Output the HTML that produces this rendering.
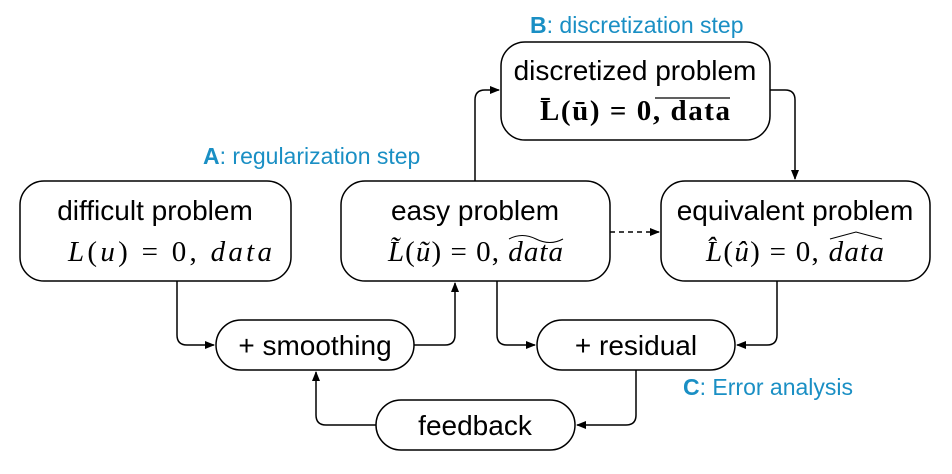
<!DOCTYPE html>
<html><head><style>
body{margin:0;background:#fff;width:952px;height:469px;overflow:hidden}
svg text{font-family:"Liberation Sans",sans-serif}
.t{font-size:28px;fill:#000;text-anchor:middle}
.m{font-family:"Liberation Serif",serif !important;font-size:29px}
.b{font-size:23px;fill:#1a8fc4}
</style></head><body>
<svg width="952" height="469" viewBox="0 0 952 469">
<defs><marker id="a" markerWidth="10" markerHeight="8" refX="9" refY="4" orient="auto" markerUnits="userSpaceOnUse"><path d="M0,0L10,4L0,8z" fill="#000"/></marker></defs>
<g fill="none" stroke="#000" stroke-width="1.5">
<rect x="20" y="181" width="271" height="100" rx="24"/>
<rect x="341" y="181" width="269" height="100" rx="24"/>
<rect x="661" y="181" width="269" height="100" rx="24"/>
<rect x="501" y="42" width="269" height="98" rx="24"/>
<rect x="216" y="320" width="198" height="50" rx="25"/>
<rect x="537" y="320" width="198" height="50" rx="25"/>
<rect x="376" y="400" width="199" height="50" rx="25"/>
<path d="M177,281V335q0,10 10,10H214" marker-end="url(#a)"/>
<path d="M414,345H445q10,0 10,-10V283" marker-end="url(#a)"/>
<path d="M497,281V335q0,10 10,10H535" marker-end="url(#a)"/>
<path d="M777,281V335q0,10 -10,10H737" marker-end="url(#a)"/>
<path d="M636,370V415q0,10 -10,10H577" marker-end="url(#a)"/>
<path d="M376,425H326q-10,0 -10,-10V372" marker-end="url(#a)"/>
<path d="M475,181V100q0,-10 10,-10H499" marker-end="url(#a)"/>
<path d="M770,90H785q10,0 10,10V179" marker-end="url(#a)"/>
<path d="M610,232H659" stroke-dasharray="5,4" marker-end="url(#a)"/>
</g>
<text class="t" x="155" y="220">difficult problem</text>
<text class="m" x="68" y="261" textLength="204" lengthAdjust="spacing"><tspan font-style="italic">L</tspan>(<tspan font-style="italic">u</tspan>) = 0, <tspan font-style="italic">data</tspan></text>
<text class="t" x="475" y="220">easy problem</text>
<text class="m" x="388" y="261" textLength="175" lengthAdjust="spacing"><tspan font-style="italic">L̃</tspan>(<tspan font-style="italic">ũ</tspan>) = 0, <tspan font-style="italic">data</tspan></text>
<path d="M509,239q13,-7 27,0t27,0" fill="none" stroke="#000" stroke-width="1"/>
<text class="t" x="795" y="220">equivalent problem</text>
<text class="m" x="706" y="261" textLength="178" lengthAdjust="spacing"><tspan font-style="italic">L̂</tspan>(<tspan font-style="italic">û</tspan>) = 0, <tspan font-style="italic">data</tspan></text>
<path d="M830,239L856,232L882,239" fill="none" stroke="#000" stroke-width="1"/>
<text class="t" x="635" y="80">discretized problem</text>
<text class="m" x="540" y="120" font-weight="bold" textLength="190" lengthAdjust="spacing">L̄(ū) = 0, data</text>
<line x1="655" y1="98" x2="730" y2="98" stroke="#000" stroke-width="1.2"/>
<text class="t" x="315" y="355">+ smoothing</text>
<text class="t" x="636" y="355">+ residual</text>
<text class="t" x="475" y="435">feedback</text>
<text class="b" x="530" y="33"><tspan font-weight="bold">B</tspan>: discretization step</text>
<text class="b" x="203" y="164"><tspan font-weight="bold">A</tspan>: regularization step</text>
<text class="b" x="683" y="395"><tspan font-weight="bold">C</tspan>: Error analysis</text>
</svg>
</body></html>
